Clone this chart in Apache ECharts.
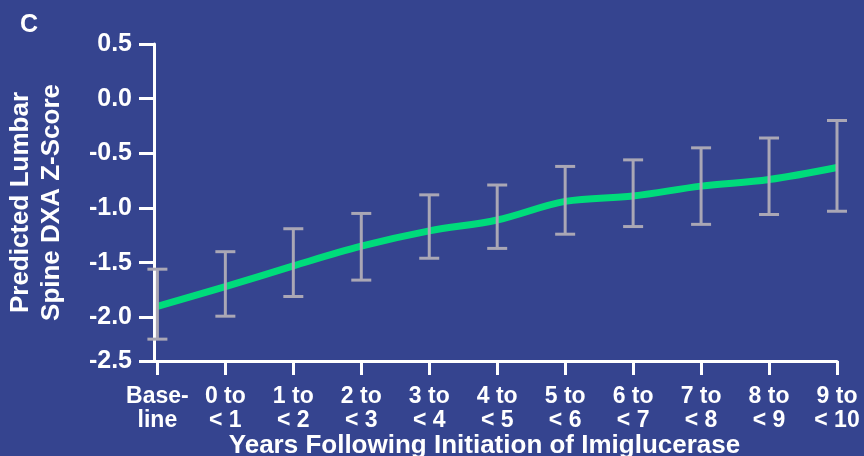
<!DOCTYPE html>
<html>
<head>
<meta charset="utf-8">
<script src="https://cdn.jsdelivr.net/npm/echarts@6/dist/echarts.min.js"></script>
<style>
html,body{margin:0;padding:0;background:#35448F;}
#chart{width:864px;height:456px;}
</style>
</head>
<body>
<div id="chart"></div>
<script>
const categories = ['Base-\nline','0 to\n< 1','1 to\n< 2','2 to\n< 3','3 to\n< 4','4 to\n< 5','5 to\n< 6','6 to\n< 7','7 to\n< 8','8 to\n< 9','9 to\n< 10'];
const meanZ = [-1.90, -1.72, -1.53, -1.35, -1.21, -1.11, -0.94, -0.89, -0.80, -0.74, -0.63];
const upperZ = [-1.56, -1.40, -1.19, -1.05, -0.88, -0.79, -0.62, -0.56, -0.45, -0.36, -0.20];
const lowerZ = [-2.20, -1.99, -1.81, -1.66, -1.46, -1.37, -1.24, -1.17, -1.15, -1.06, -1.03];
const yTickValues = [0.5, 0.0, -0.5, -1.0, -1.5, -2.0, -2.4];
const yTickLabels = ['0.5', '0.0', '-0.5', '-1.0', '-1.5', '-2.0', '-2.5'];

const FONT = '"Liberation Sans", Arial, sans-serif';
const chart = echarts.init(document.getElementById('chart'));
const idx = categories.map((c, i) => i);

chart.setOption({
  backgroundColor: '#35448F',
  animation: false,
  title: {
    text: 'C', left: 15, top: 8,
    textStyle: {color: '#fff', fontFamily: FONT, fontWeight: 'bold', fontSize: 25}
  },
  grid: {left: 154, right: 27, top: 44, bottom: 95, containLabel: false, outerBoundsMode: 'none'},
  xAxis: {
    type: 'value', min: -0.05, max: 10,
    name: 'Years Following Initiation of Imiglucerase',
    nameLocation: 'middle', nameGap: 72, nameMoveOverlap: false,
    nameTextStyle: {color: '#fff', fontFamily: FONT, fontWeight: 'bold', fontSize: 26, padding: [0, 22, 0, 0]},
    axisLine: {onZero: false, lineStyle: {color: '#fff', width: 3}},
    axisTick: {show: true, length: 14, lineStyle: {color: '#fff', width: 3}, customValues: idx},
    axisLabel: {
      customValues: idx, margin: 24,
      color: '#fff', fontFamily: FONT, fontWeight: 'bold', fontSize: 23, lineHeight: 24,
      formatter: v => categories[Math.round(v)]
    },
    splitLine: {show: false}
  },
  yAxis: {
    type: 'value', min: -2.4, max: 0.5,
    name: 'Predicted Lumbar\nSpine DXA Z-Score',
    nameLocation: 'middle', nameGap: 87, nameMoveOverlap: false,
    nameTextStyle: {color: '#fff', fontFamily: FONT, fontWeight: 'bold', fontSize: 26, lineHeight: 31},
    axisLine: {show: true, onZero: false, lineStyle: {color: '#fff', width: 3}},
    axisTick: {show: true, length: 15, lineStyle: {color: '#fff', width: 3}, customValues: yTickValues},
    axisLabel: {
      customValues: yTickValues, margin: 22,
      color: '#fff', fontFamily: FONT, fontWeight: 'bold', fontSize: 25,
      formatter: v => yTickLabels[yTickValues.findIndex(t => Math.abs(t - v) < 1e-6)]
    },
    splitLine: {show: false}
  },
  series: [
    {
      type: 'line',
      data: idx.map(i => [i, meanZ[i]]),
      smooth: 0.35,
      symbol: 'none',
      lineStyle: {color: '#00DB7B', width: 7},
      z: 2
    },
    {
      type: 'custom',
      data: idx.map(i => [i, lowerZ[i], upperZ[i]]),
      z: 3,
      renderItem: function (params, api) {
        const x = api.value(0);
        const lo = api.coord([x, api.value(1)]);
        const hi = api.coord([x, api.value(2)]);
        const hw = 10;
        const style = {stroke: '#AAA7B5', lineWidth: 3, fill: null};
        return {
          type: 'group',
          children: [
            {type: 'line', shape: {x1: lo[0], y1: lo[1], x2: hi[0], y2: hi[1]}, style: style},
            {type: 'line', shape: {x1: hi[0] - hw, y1: hi[1], x2: hi[0] + hw, y2: hi[1]}, style: style},
            {type: 'line', shape: {x1: lo[0] - hw, y1: lo[1], x2: lo[0] + hw, y2: lo[1]}, style: style}
          ]
        };
      }
    }
  ]
});
</script>
</body>
</html>
